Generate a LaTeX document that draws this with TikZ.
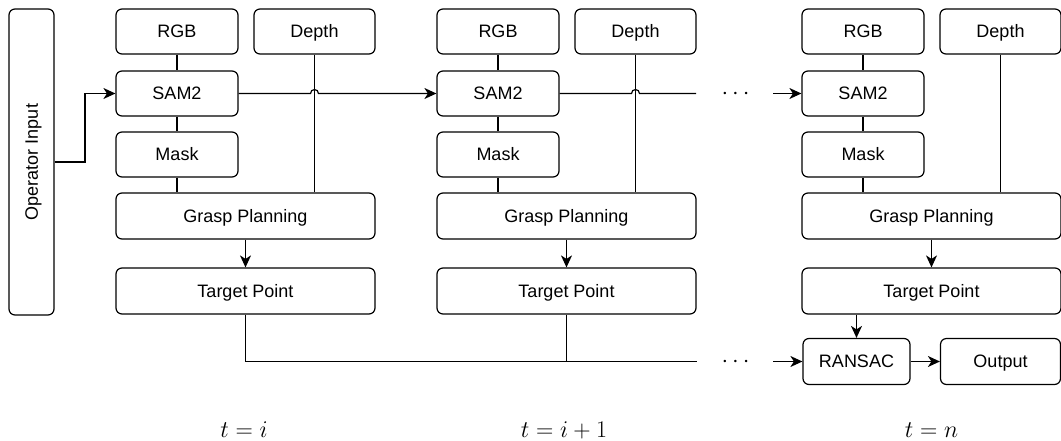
\RequirePackage{fix-cm}
\documentclass[tikz,border=0pt]{standalone}
\usepackage{fontspec}
\setmainfont{Liberation Sans}
\usetikzlibrary{arrows.meta,calc}
\tikzset{
  box/.style={draw, rounded corners=6pt, line width=1.2pt, minimum width=122pt, minimum height=45pt,
    inner sep=0pt, font=\fontsize{18}{22}\selectfont, text height=12.9pt, text depth=0pt, align=center},
  wide/.style={box, minimum width=259pt, minimum height=46pt},
  conn/.style={line width=1.2pt},
  arr/.style={conn, -{Stealth[length=12pt,width=11pt,inset=3.5pt]}},
  lbl/.style={font=\fontsize{24}{28}\selectfont, anchor=base, inner sep=0pt},
}
\begin{document}
\begin{tikzpicture}[x=1pt,y=-1pt]
\useasboundingbox (0,0) rectangle (1061,440);

\node[box, minimum width=306pt, minimum height=45pt, rotate=90] (op) at (31.5,162) {Operator Input};

\foreach \c/\o in {1/0,2/321,3/686}{
  \node[box] (rgb\c) at (177+\o,31.5) {RGB};
  \node[box, minimum width=121pt] (depth\c) at (314.5+\o,31.5) {Depth};
  \node[box] (sam\c) at (177+\o,93.5) {SAM2};
  \node[box] (mask\c) at (177+\o,154.5) {Mask};
  \node[wide] (grasp\c) at (245.5+\o,216) {Grasp Planning};
  \node[wide] (target\c) at (245.5+\o,291) {Target Point};
  \draw[conn] (rgb\c.south) -- (sam\c.north);
  \draw[conn] (sam\c.south) -- (mask\c.north);
  \draw[conn] (mask\c.south) -- (mask\c.south |- grasp\c.north);
  \draw[conn] (depth\c.south) -- (depth\c.south |- grasp\c.north);
  \draw[arr] (grasp\c.south) -- (target\c.north);
}

% operator input
\coordinate (opk) at (85,162);
\draw[arr] (op.south) -- (opk) |- (sam1.west);

% SAM2 chain with hops
\draw[arr] (sam1.east) -- ($(depth1.south |- sam1.east)+(-4pt,0)$) arc[start angle=180,end angle=0,radius=4pt] -- (sam2.west);
\coordinate (e2) at (696,93.5);
\draw[conn] (sam2.east) -- ($(depth2.south |- sam2.east)+(-4pt,0)$) arc[start angle=180,end angle=0,radius=4pt] -- (e2);
\node[lbl] (dots1) at (735.5,99.5) {$\cdots$};
\coordinate (s3) at (773,93.5);
\draw[arr] (s3) -- (sam3.west);

% bottom
\node[box, minimum width=107pt, minimum height=46pt] (ransac) at (856.5,361.5) {RANSAC};
\node[box, minimum width=120pt, minimum height=46pt] (output) at (1000.5,361.5) {Output};
\coordinate (b1) at (245.5,361.5);
\coordinate (be) at (697,361.5);
\draw[conn] (target1.south) -- (b1) -- (be);
\draw[conn] (target2.south) -- (target2.south |- b1);
\node[lbl] (dots2) at (735.5,367.5) {$\cdots$};
\coordinate (s4) at (773,361.5);
\draw[arr] (s4) -- (ransac.west);
\draw[arr] (ransac.north |- target3.south) -- (ransac.north);
\draw[arr] (ransac.east) -- (output.west);

% labels
\node[lbl] (ti) at (244,437) {$t = i$};
\node[lbl] (ti1) at (564,437) {$t = i + 1$};
\node[lbl] (tn) at (931.5,437) {$t = n$};
\end{tikzpicture}
\end{document}
